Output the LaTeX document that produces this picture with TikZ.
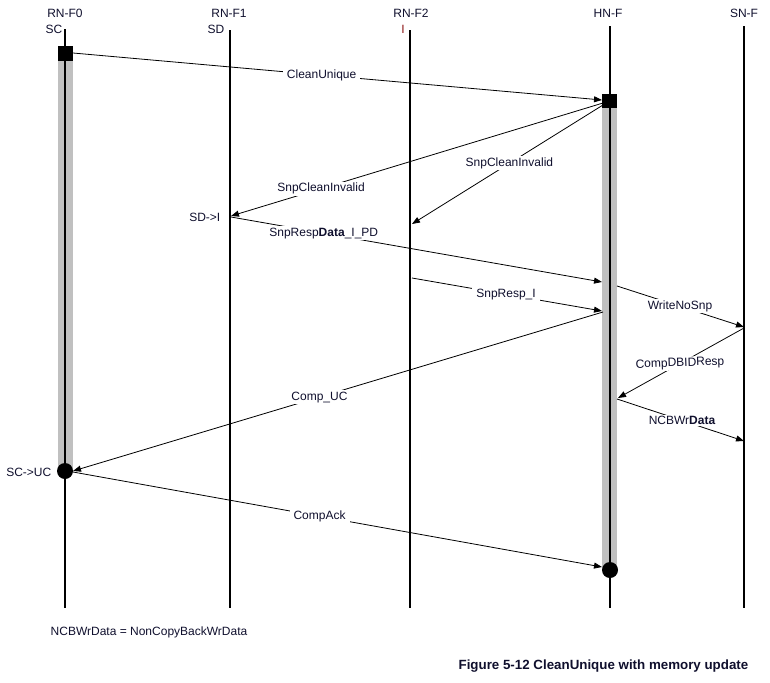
\documentclass[tikz,border=0pt]{standalone}
\usepackage{fontspec}
\setmainfont{Liberation Sans}
\usetikzlibrary{arrows.meta}
\definecolor{txt}{RGB}{15,15,45}
\definecolor{bargray}{RGB}{192,192,192}
\definecolor{statered}{RGB}{140,20,20}
\begin{document}
\begin{tikzpicture}[x=0.75pt,y=-0.75pt,
  every node/.style={font=\fontsize{9}{11}\selectfont, text=txt},
  lifeline/.style={line width=1.5pt},
  msg/.style={line width=0.6pt, -{Triangle[length=6pt,width=4.5pt]}},
  lbl/.style={fill=white, inner xsep=3pt, inner ysep=1pt},
  bar/.style={fill=bargray},
  blk/.style={fill=black}]
\useasboundingbox (0,0) rectangle (770,682);
% headers
\node (h0) at (65,13) {RN-F0};
\node (h1) at (229,13) {RN-F1};
\node (h2) at (411,13) {RN-F2};
\node (h3) at (608,13) {HN-F};
\node (h4) at (744,13) {SN-F};
\node (s0) at (54,29) {SC};
\node (s1) at (216,29) {SD};
\node[text=statered] (s2) at (403,29) {I};
% lifeline ends
\coordinate (t0) at (65,29);  \coordinate (b0) at (65,608);
\coordinate (t1) at (230,30); \coordinate (b1) at (230,608);
\coordinate (t2) at (410,30); \coordinate (b2) at (410,608);
\coordinate (t3) at (610,26); \coordinate (b3) at (610,608);
\coordinate (t4) at (744,26); \coordinate (b4) at (744,608);
% activation bars
\fill[bar] (58,61) rectangle (73,471);
\fill[bar] (602,108) rectangle (617,570);
\draw[lifeline] (t0) -- (b0);
\draw[lifeline] (t1) -- (b1);
\draw[lifeline] (t2) -- (b2);
\draw[lifeline] (t3) -- (b3);
\draw[lifeline] (t4) -- (b4);
\fill[blk] (58,46) rectangle (73,61);
\fill[blk] (602,94) rectangle (617,108);
\fill[blk] (65,471) circle [radius=8];
\fill[blk] (610,570) circle [radius=8];
% message end points
\coordinate (cuA) at (73,53);   \coordinate (cuB) at (602,100);
\coordinate (sc1A) at (603,103); \coordinate (sc1B) at (231,216);
\coordinate (sc2A) at (603,105); \coordinate (sc2B) at (412,224);
\coordinate (srdA) at (231,217); \coordinate (srdB) at (602,282);
\coordinate (sriA) at (412,278); \coordinate (sriB) at (602,311);
\coordinate (wnA) at (617,286);  \coordinate (wnB) at (744,327);
\coordinate (cdA) at (744,328);  \coordinate (cdB) at (618,398);
\coordinate (ncA) at (617,399);  \coordinate (ncB) at (744,441);
\coordinate (cucA) at (603,312); \coordinate (cucB) at (73,471);
\coordinate (caA) at (73,472);   \coordinate (caB) at (602,567);
% messages
\draw[msg] (cuA) -- node[lbl,pos=0.47] {CleanUnique} (cuB);
\draw[msg] (sc1A) -- node[lbl,pos=0.758] {SnpCleanInvalid} (sc1B);
\draw[msg] (sc2A) -- node[lbl,pos=0.49] {SnpCleanInvalid} (sc2B);
\draw[msg] (srdA) -- node[lbl,pos=0.25] {SnpResp\textbf{Data}\_I\_PD} (srdB);
\draw[msg] (sriA) -- node[lbl,pos=0.495] {SnpResp\_I} (sriB);
\draw[msg] (wnA) -- node[lbl,pos=0.496] {WriteNoSnp} (wnB);
\draw[msg] (cdA) -- node[lbl,pos=0.508,rotate=2] {CompDBIDResp} (cdB);
\draw[msg] (ncA) -- node[lbl,pos=0.512] {NCBWr\textbf{Data}} (ncB);
\draw[msg] (cucA) -- node[lbl,pos=0.535] {Comp\_UC} (cucB);
\draw[msg] (caA) -- node[lbl,pos=0.466] {CompAck} (caB);
% state labels
\node[anchor=east] (st0) at (56,472) {SC->UC};
\node[anchor=east] (st1) at (225,217) {SD->I};
% notes
\node[anchor=west] (note) at (46,632) {NCBWrData = NonCopyBackWrData};
\node[anchor=east, font=\fontsize{10}{12}\selectfont\bfseries] (cap) at (753,666) {Figure 5-12 CleanUnique with memory update};
\end{tikzpicture}
\end{document}
